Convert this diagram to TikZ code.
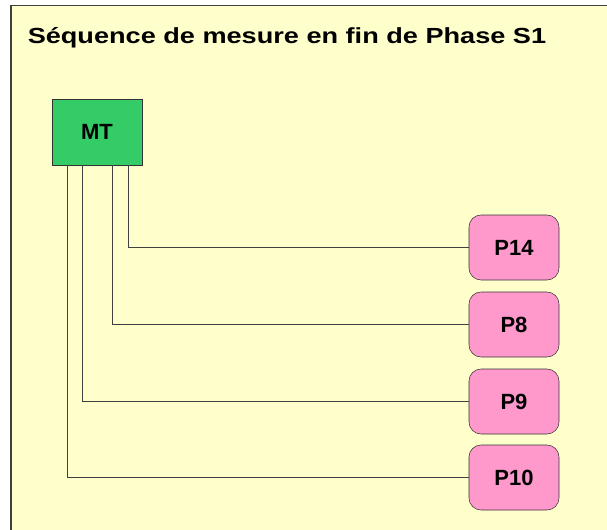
\documentclass[tikz,border=0pt]{standalone}
\usepackage{fontspec}
\setmainfont{Liberation Sans}
\usetikzlibrary{positioning}
\definecolor{fondjaune}{HTML}{FFFFCC}
\definecolor{vertmt}{HTML}{33CC66}
\definecolor{rosep}{HTML}{FF99CC}
\tikzset{
    mtbox/.style={draw=black!80, fill=vertmt, minimum width=67.5pt, minimum height=49.5pt, inner sep=0pt, font=\bfseries\fontsize{16.5}{18}\selectfont},
    pbox/.style={draw=black!80, fill=rosep, rounded corners=9pt, minimum width=67.5pt, minimum height=48.75pt, inner sep=0pt, font=\bfseries\fontsize{16.5}{18}\selectfont},
    fil/.style={draw=black!75, line width=0.6pt}
}
\begin{document}
\begin{tikzpicture}[x=0.75pt, y=-0.75pt]

	\useasboundingbox (0,0) rectangle (607,529);
	\begin{scope}
		\clip (0,0) rectangle (607,529);
		\draw[ fill=fondjaune, draw=black!75, line width=1pt ] (11,5.5) rectangle (620,540);
	\end{scope}

	\node[ anchor=base west, inner sep=0pt, font=\bfseries\fontsize{16.4}{18}\selectfont ] (titre) at (27.5,43) {\scalebox{1.24}[1]{Séquence de mesure en fin de Phase S1}};

	\node[ mtbox ] (mt) at (97,132) {MT};

	\node[ pbox ] (p14) at (514,247.5) {P14};
	\node[ pbox ] (p8) at (514,324.5) {P8};
	\node[ pbox ] (p9) at (514,401.5) {P9};
	\node[ pbox ] (p10) at (514,477.5) {P10};

	\draw[ fil ] ([xshift=23.25pt]mt.south) |- (p14.west);
	\draw[ fil ] ([xshift=11.25pt]mt.south) |- (p8.west);
	\draw[ fil ] ([xshift=-11.25pt]mt.south) |- (p9.west);
	\draw[ fil ] ([xshift=-22.5pt]mt.south) |- (p10.west);

\end{tikzpicture}
\end{document}
